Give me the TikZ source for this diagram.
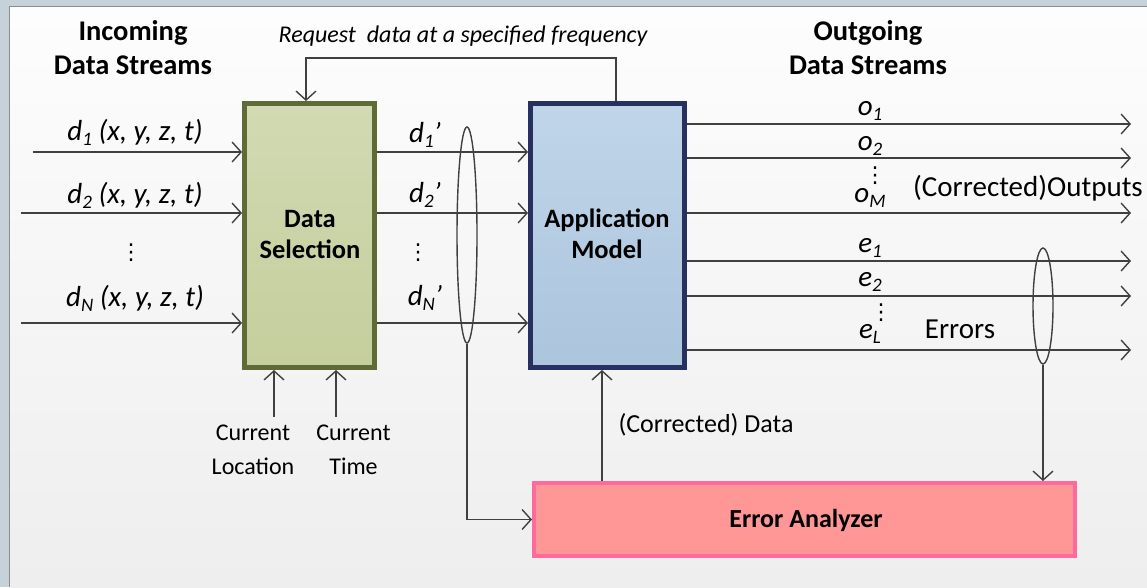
\documentclass[tikz,border=0pt]{standalone}
\usepackage{fontspec}
\setmainfont{Carlito}
\newfontfamily\djv{DejaVu Sans}
\usetikzlibrary{arrows.meta,shapes.geometric}
\definecolor{outerbg}{HTML}{C6D2DA}
\definecolor{frameln}{HTML}{8C8C8C}
\definecolor{panTop}{HTML}{FDFDFD}
\definecolor{panBot}{HTML}{EEEEEE}
\definecolor{dsFillA}{HTML}{D1DAB2}
\definecolor{dsFillB}{HTML}{C5CE9C}
\definecolor{dsLine}{HTML}{5F6B37}
\definecolor{amFillA}{HTML}{C0D5E9}
\definecolor{amFillB}{HTML}{ABC5DD}
\definecolor{amLine}{HTML}{27315F}
\definecolor{eaFill}{HTML}{FF9797}
\definecolor{eaLine}{HTML}{FF6A9C}
\definecolor{conn}{HTML}{404040}
\newcommand\sbs[1]{\raisebox{-5pt}{\fontsize{19}{19}\selectfont #1}}
\begin{document}
\begin{tikzpicture}[x=1pt,y=-1pt,
  every node/.style={font=\fontsize{24}{34}\selectfont, inner sep=0pt, align=center, text=black},
  lbl/.style={font=\fontsize{29}{32}\selectfont\itshape, anchor=base},
  reg/.style={font=\fontsize{24}{34}\selectfont, anchor=base},
  head/.style={font=\fontsize{28.5}{34}\selectfont\bfseries},
  boxtxt/.style={font=\fontsize{26.5}{31}\selectfont\bfseries},
  dotsn/.style={font=\djv\fontsize{22}{22}\selectfont},
  arr/.style={draw=conn, line width=1.4pt, -{Straight Barb[length=9pt,width=20pt,line width=1.4pt]}},
  bundle/.style={draw=conn, line width=1.4pt, ellipse, minimum width=20pt, inner sep=0pt},
  dsbox/.style={draw=dsLine, line width=5pt, top color=dsFillA, bottom color=dsFillB,
    minimum width=130pt, minimum height=264pt},
  ambox/.style={draw=amLine, line width=5pt, top color=amFillA, bottom color=amFillB,
    minimum width=154pt, minimum height=264pt},
  eabox/.style={draw=eaLine, line width=4pt, fill=eaFill, minimum width=541pt, minimum height=73pt}
]
\useasboundingbox (0,0) rectangle (1147,587);
\fill[outerbg] (0,0) rectangle (1147,587);
\shade[top color=panTop,bottom color=panBot] (10,7) rectangle (1147,587);
\draw[frameln, line width=1.5pt] (9.5,587) -- (9.5,6.5) -- (1147,6.5);

% boxes
\node[dsbox] (DS) at (309.5,235.5) {};
\node[boxtxt] at (310,234) {Data\\Selection};
\node[ambox] (AM) at (607.5,235.5) {};
\node[boxtxt] at (607,234) {Application\\Model};
\node[eabox] (EA) at (804.5,519.5) {};
\node[font=\fontsize{26}{31}\selectfont\bfseries, anchor=base] at (806,527) {Error Analyzer};

% headings
\node[head] at (133,48) {Incoming\\Data Streams};
\node[head] at (868,48) {Outgoing\\Data Streams};
\node[font=\fontsize{24}{28}\selectfont\itshape, anchor=base] at (463,42) {Request\ \ data at a specified frequency};

% feedback request
\coordinate (fbr) at (616,58);
\coordinate (fbl) at (306,58);
\draw[arr] (AM.north -| fbr) -- (fbr) -- (fbl) -- (DS.north -| fbl);

% incoming streams
\coordinate (i1) at (33,152);
\coordinate (i2) at (21,213);
\coordinate (iN) at (21,323);
\draw[arr] (i1) -- (i1 -| DS.west);
\draw[arr] (i2) -- (i2 -| DS.west);
\draw[arr] (iN) -- (iN -| DS.west);
\node[lbl] at (135,140) {d\sbs{1} (x, y, z, t)};
\node[lbl] at (135,203) {d\sbs{2} (x, y, z, t)};
\node[lbl] at (135,306) {d\sbs{N} (x, y, z, t)};
\node[dotsn] at (131,253) {⋮};

% selected streams
\draw[arr] (DS.east |- i1) -- (AM.west |- i1);
\draw[arr] (DS.east |- i2) -- (AM.west |- i2);
\draw[arr] (DS.east |- iN) -- (AM.west |- iN);
\node[lbl] at (425,142) {d\sbs{1}'};
\node[lbl] at (425,202) {d\sbs{2}'};
\node[lbl] at (425,305) {d\sbs{N}'};
\node[dotsn] at (418,253) {⋮};

% bundle to error analyzer
\node[bundle, minimum height=216pt] (B1) at (467,235) {};
\draw[arr] (B1.south) |- (EA.west);

% current location / time
\coordinate (cl) at (274,417);
\coordinate (ct) at (336,417);
\draw[arr] (cl) -- (cl |- DS.south);
\draw[arr] (ct) -- (ct |- DS.south);
\node[font=\fontsize{24}{34}\selectfont] at (253,450) {Current\\Location};
\node[font=\fontsize{24}{34}\selectfont] at (353.5,450) {Current\\Time};

% outputs
\coordinate (o1) at (1131,124);
\coordinate (o2) at (1131,158);
\coordinate (oM) at (1131,213);
\coordinate (e1) at (1131,261);
\coordinate (e2) at (1131,296);
\coordinate (eL) at (1131,350);
\foreach \p in {o1,o2,oM,e1,e2,eL} {\draw[arr] (AM.east |- \p) -- (\p);}
\node[lbl] at (870,115) {o\sbs{1}};
\node[lbl] at (870,150) {o\sbs{2}};
\node[lbl] at (870,202) {o\sbs{M}};
\node[dotsn] at (875,176) {⋮};
\node[lbl] at (870,252) {e\sbs{1}};
\node[lbl] at (870,286) {e\sbs{2}};
\node[lbl] at (870,338) {e\sbs{L}};
\node[dotsn] at (881,313) {⋮};
\node[reg, font=\fontsize{29}{32}\selectfont] at (1028,196) {(Corrected)Outputs};
\node[reg, font=\fontsize{29}{32}\selectfont] at (960,338) {Errors};

% errors bundle
\node[bundle, minimum height=116pt] (B2) at (1043,306) {};
\draw[arr] (B2.south) -- (B2.south |- EA.north);

% corrected data
\coordinate (cd) at (602,481);
\draw[arr] (cd) -- (cd |- AM.south);
\node[reg, font=\fontsize{26}{30}\selectfont] at (706,432) {(Corrected) Data};
\end{tikzpicture}
\end{document}
